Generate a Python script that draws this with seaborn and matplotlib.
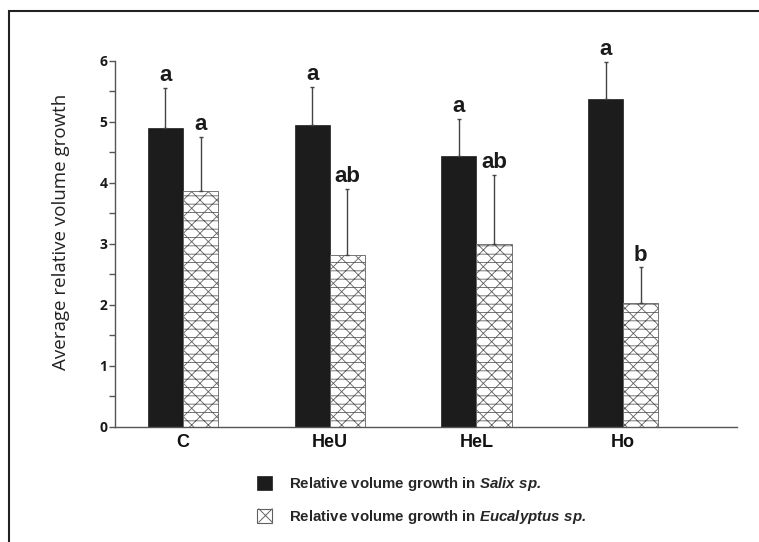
import matplotlib
matplotlib.use("Agg")
import matplotlib.pyplot as plt
import matplotlib.patches as mpatches
from matplotlib.lines import Line2D
from matplotlib.legend_handler import HandlerTuple
from matplotlib.ticker import MultipleLocator
import seaborn as sns
import pandas as pd

treatments = ["C", "HeU", "HeL", "Ho"]
species = ["Salix", "Eucalyptus"]
salix_mean = [4.90, 4.95, 4.43, 5.38]
salix_err = [0.65, 0.62, 0.62, 0.60]
euc_mean = [3.87, 2.82, 3.00, 2.02]
euc_err = [0.88, 1.08, 1.12, 0.59]
salix_letters = ["a", "a", "a", "a"]
euc_letters = ["a", "ab", "ab", "b"]
legend_labels = [r"Relative volume growth in $\mathbfit{Salix\ sp.}$",
                 r"Relative volume growth in $\mathbfit{Eucalyptus\ sp.}$"]
y_label = "Average relative volume growth"

df = pd.DataFrame({
    "treatment": treatments * 2,
    "species": [species[0]] * 4 + [species[1]] * 4,
    "growth": salix_mean + euc_mean,
})
errs = salix_err + euc_err
letters = salix_letters + euc_letters

sns.set_theme(style="white")
plt.rcParams["font.family"] = ["Liberation Sans", "DejaVu Sans"]
plt.rcParams["mathtext.fontset"] = "custom"
plt.rcParams["mathtext.rm"] = "Liberation Sans:bold"
plt.rcParams["mathtext.bfit"] = "Liberation Sans:bold:italic"
plt.rcParams["hatch.linewidth"] = 0.6

W, H = 759, 542
fig = plt.figure(figsize=(W / 100, H / 100), dpi=100)
ax = fig.add_axes([115 / W, 1 - 426.7 / H, 622 / W, 366 / H])

sns.barplot(data=df, x="treatment", y="growth", hue="species",
            hue_order=species, order=treatments,
            palette={"Salix": "#1c1c1c", "Eucalyptus": "white"},
            width=0.48, errorbar=None, ax=ax, legend=False)

n = len(treatments)
for i, p in enumerate(ax.patches[:2 * n]):
    if i < n:
        p.set_edgecolor("#1c1c1c")
        p.set_linewidth(0.5)
    else:
        p.set_facecolor("white")
        p.set_edgecolor("#606060")
        p.set_linewidth(0.6)
        p.set_hatch("xx--")
    xc = p.get_x() + p.get_width() / 2
    top = p.get_height()
    ax.errorbar(xc, top, yerr=[[0], [errs[i]]], fmt="none",
                ecolor="#444444", elinewidth=1.0, capsize=1.5, capthick=1.0)
    ax.annotate(letters[i], (xc, top + errs[i]), xytext=(0, 5),
                textcoords="offset points", ha="center", va="baseline",
                fontsize=16, fontweight="bold", color="#1a1a1a")

ax.set_ylim(0, 6)
ax.set_xlim(-0.4636, 3.776)
ax.yaxis.set_major_locator(MultipleLocator(1))
ax.yaxis.set_minor_locator(MultipleLocator(0.5))
ax.tick_params(axis="y", which="both", direction="out", length=4,
               width=1, color="#555555", left=True, pad=1.5)
ax.tick_params(axis="x", length=0, pad=5)
for lab in ax.get_yticklabels():
    lab.set_fontfamily(["Open Sans", "DejaVu Sans"])
    lab.set_fontweight("bold")
    lab.set_fontsize(10)
    lab.set_color("#1a1a1a")
for lab in ax.get_xticklabels():
    lab.set_fontweight("bold")
    lab.set_fontsize(13)
    lab.set_color("#111111")

for s in ["top", "right"]:
    ax.spines[s].set_visible(False)
for s in ["left", "bottom"]:
    ax.spines[s].set_color("#555555")
    ax.spines[s].set_linewidth(1.0)

ax.set_xlabel("")
ax.set_ylabel(y_label, fontfamily=["Open Sans", "DejaVu Sans"],
              fontsize=13.5, color="#222222")
ax.yaxis.set_label_coords(-0.073, 0.532)

salix_handle = mpatches.Patch(facecolor="#1c1c1c", edgecolor="#1c1c1c", linewidth=0.5)
euc_box = mpatches.Patch(facecolor="white", edgecolor="#606060", linewidth=0.8)
euc_x = Line2D([], [], marker="x", markersize=10, markeredgewidth=0.7,
               color="#606060", linestyle="none")
fig.legend([salix_handle, (euc_box, euc_x)], legend_labels, loc="upper left",
           bbox_to_anchor=(257 / W, 1 - 475 / H), frameon=False,
           prop={"family": "Liberation Sans", "weight": "bold", "size": 10.8},
           handlelength=1.0, handleheight=1.0, handletextpad=1.15,
           labelspacing=1.0, borderpad=0, borderaxespad=0,
           handler_map={tuple: HandlerTuple(ndivide=1, pad=0)})

fig.patches.append(mpatches.Rectangle((9 / W, -0.1), 1.2, 1 - 11 / H + 0.1,
                                      transform=fig.transFigure, fill=False,
                                      edgecolor="#222222", linewidth=1.5,
                                      zorder=10))

fig.savefig("out.png", dpi=100)
